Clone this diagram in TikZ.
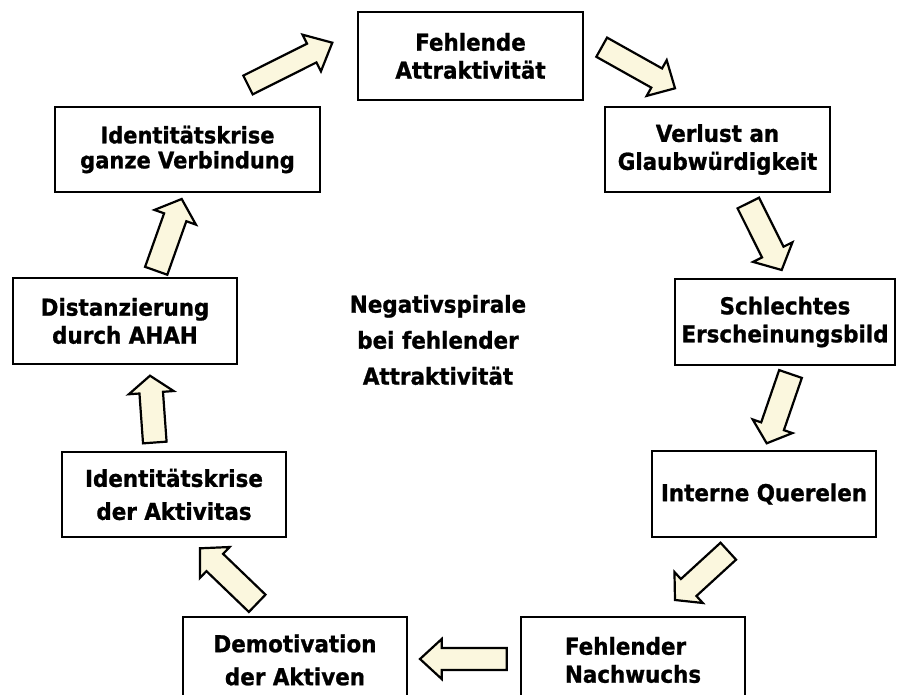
\documentclass[tikz,border=0pt]{standalone}
\usepackage{fontspec}
\setmainfont{DejaVu Sans}[FakeStretch=0.92, BoldFeatures={FakeBold=1}]
\usetikzlibrary{calc}
\definecolor{cream}{RGB}{251,247,222}
\tikzset{
  box/.style={draw=black, line width=1.4pt, fill=white, minimum width=224pt,
    minimum height=86pt, align=center, inner sep=0pt,
    font=\fontsize{23.3}{28}\selectfont\bfseries},
  centertext/.style={align=center, inner sep=0pt,
    font=\fontsize{23.3}{36}\selectfont\bfseries},
  blockarr/.style={draw=black, line width=2.2pt, fill=cream, line join=miter},
}
\newcommand\blockarrowdraw[5]{%
  \coordinate (bap) at ($(#2)!#5!(#1)$);
  \draw[blockarr] ($(#1)!#3!90:(#2)$) -- ($(bap)!#3!90:(#2)$) -- ($(bap)!#4!90:(#2)$)
    -- (#2) -- ($(bap)!#4!-90:(#2)$) -- ($(bap)!#3!-90:(#2)$) -- ($(#1)!#3!-90:(#2)$) -- cycle;
}
\begin{document}
\begin{tikzpicture}[x=1pt,y=-1pt]
\useasboundingbox (0,0) rectangle (922,695);
\clip (0,0) rectangle (922,695);
\fill[white] (0,0) rectangle (922,695);

% boxes
\node[box, minimum width=225pt, minimum height=88pt] (n1) at (470.5,56) {Fehlende\\ Attraktivität};
\node[box, minimum width=225pt, minimum height=85pt] (n2) at (717.5,149.5) {Verlust an\\Glaubwürdigkeit};
\node[box, minimum width=220pt] (n3) at (785,322) {Schlechtes\\Erscheinungsbild};
\node[box] (n4) at (764,494) {Interne Querelen};
\node[box, align=left] (n5) at (633,660) {Fehlender\\Nachwuchs};
\node[box, font=\fontsize{23.3}{33}\selectfont\bfseries] (n6) at (295,660) {Demotivation\\der Aktiven};
\node[box, minimum height=85pt, font=\fontsize{23.3}{33}\selectfont\bfseries] (n7) at (174,494.5) {Identitätskrise\\der Aktivitas};
\node[box] (n8) at (125,321) {Distanzierung\\durch AHAH};
\node[box, minimum width=265pt, minimum height=85pt, font=\fontsize{22.8}{25}\selectfont\bfseries] (n9) at (187.5,149.5) {Identitätskrise\\ganze Verbindung};

\node[centertext] (center) at (438,340) {Negativspirale\\bei fehlender\\Attraktivität};

% arrow end points
\coordinate (t1) at (248,85);     \coordinate (h1) at (332.3,42.7);
\coordinate (t2) at (601.7,47.2); \coordinate (h2) at (675,88.3);
\coordinate (t3) at (748.3,203);  \coordinate (h3) at (781.7,270);
\coordinate (t4) at (790.5,374);  \coordinate (h4) at (766.7,443.3);
\coordinate (t5) at (728.3,551.2);\coordinate (h5) at (675,600);
\coordinate (t6) at (506.7,659);  \coordinate (h6) at (420,659);
\coordinate (t7) at (257.2,603.3);\coordinate (h7) at (200,548.3);
\coordinate (t8) at (154.8,442.5);\coordinate (h8) at (150,375.7);
\coordinate (t9) at (156.2,270.8);\coordinate (h9) at (181.7,199);

\blockarrowdraw{t1}{h1}{10.5pt}{20.5pt}{23pt}
\blockarrowdraw{t2}{h2}{11pt}{20.5pt}{21pt}
\blockarrowdraw{t3}{h3}{12pt}{22pt}{20pt}
\blockarrowdraw{t4}{h4}{12pt}{21pt}{18pt}
\blockarrowdraw{t5}{h5}{11.5pt}{21pt}{18.5pt}
\blockarrowdraw{t6}{h6}{11pt}{20pt}{21.7pt}
\blockarrowdraw{t7}{h7}{12pt}{21.5pt}{20.5pt}
\blockarrowdraw{t8}{h8}{11.8pt}{22.5pt}{17pt}
\blockarrowdraw{t9}{h9}{11.8pt}{22pt}{19.4pt}
\end{tikzpicture}
\end{document}
